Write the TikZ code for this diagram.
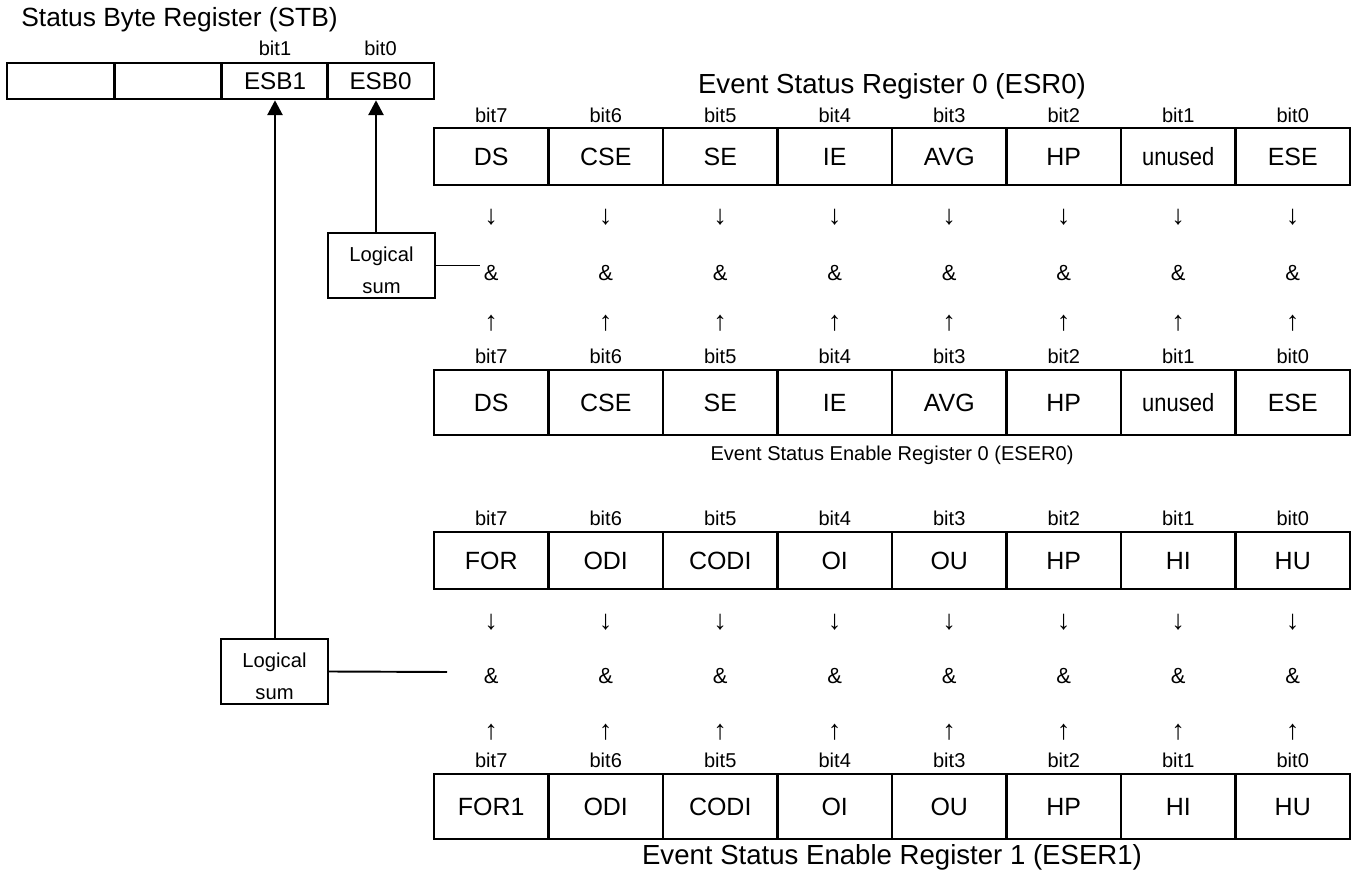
\documentclass[tikz,border=0pt]{standalone}
\usepackage{fontspec}
\setmainfont{Liberation Sans}
\usetikzlibrary{arrows.meta}
\def\px{0.02cm}
% one register: name, top, height, contents
\def\regrow#1#2#3#4{\foreach \lbl [count=\k from 0] in {#4} {\node[cell, minimum height=#3*\px] (#1\k) at ({491.25+114.5*\k}, {#2+#3/2}) {\lbl};}}
% bit numbers above a register
\def\bitrow#1#2{\foreach \k in {0,...,7} {\pgfmathtruncatemacro\b{7-\k}\node[bitlbl] (#1\k) at ({491.25+114.5*\k}, #2) {bit\b};}}
% and gates with their in/out arrows
\def\gaterow#1#2#3#4{\foreach \k in {0,...,7} {
  \node[gatearr] (#1dn\k) at ({491.25+114.5*\k}, #2) {↓};
  \node[gatetxt] (#1and\k) at ({491.25+114.5*\k}, #3) {\&};
  \node[gatearr] (#1up\k) at ({491.25+114.5*\k}, #4) {↑};}}

\begin{document}
\begin{tikzpicture}[x=0.02cm, y=-0.02cm,
  cell/.style={draw, line width=1.4pt, minimum width=114.5*\px, inner sep=0pt, text height=10.2pt, text depth=0pt, font=\fontsize{14.2}{16}\selectfont},
  stbcell/.style={draw, line width=1.4pt, minimum width=106.5*\px, minimum height=36*\px, inner sep=0pt, text height=9.9pt, text depth=0pt, font=\fontsize{13.8}{16}\selectfont},
  bitlbl/.style={inner sep=1pt, font=\fontsize{11.4}{13}\selectfont},
  gatetxt/.style={inner sep=2pt, font=\fontsize{12.5}{14}\selectfont},
  gatearr/.style={inner sep=2pt, font=\fontsize{15.5}{17}\selectfont},
  sumbox/.style={draw, line width=1.4pt, minimum width=107*\px, minimum height=65*\px, inner sep=0pt, align=center, font=\fontsize{11.5}{18.2}\selectfont},
  stbtitle/.style={inner sep=0pt, font=\fontsize{15}{17}\selectfont},
  regtitle/.style={inner sep=0pt, font=\fontsize{15.7}{18}\selectfont},
  wire/.style={line width=1.1pt},
  feed/.style={line width=1.6pt, -{Triangle[length=0.3cm, width=0.3cm]}}]
  %%%%% START %%%%%
  \useasboundingbox (0,0) rectangle (1357,874);

  % status byte register
  \node[stbtitle, anchor=west] (stbname) at (21,20) {Status Byte Register (STB)};
  \node[stbcell] (stb3) at (60.5,81) {};
  \node[stbcell] (stb2) at (168,81) {};
  \node[stbcell] (esb1) at (275,81) {ESB1};
  \node[stbcell] (esb0) at (380.5,81) {ESB0};
  \node[bitlbl] (stbbit1) at (275,48) {bit1};
  \node[bitlbl] (stbbit0) at (380.5,48) {bit0};

  % event status register 0 and its enable register
  \node[regtitle] (esrname) at (892,86) {Event Status Register 0 (ESR0)};
  \bitrow{esrbit}{115}
  \regrow{esr}{128}{57}{DS,CSE,SE,IE,AVG,HP,\scalebox{0.88}[1]{unused},ESE}
  \gaterow{ga}{217}{273}{323}
  \bitrow{eserAbit}{356}
  \regrow{eserA}{370}{65}{DS,CSE,SE,IE,AVG,HP,\scalebox{0.88}[1]{unused},ESE}
  \node[bitlbl] (eserAname) at (892,455) {Event Status Enable Register 0 (ESER0)};

  % event status register 1 and its enable register
  \bitrow{forbit}{518}
  \regrow{for}{532}{57}{FOR,ODI,CODI,OI,OU,HP,HI,HU}
  \gaterow{gb}{622}{676}{732}
  \bitrow{eserBbit}{760}
  \regrow{eserB}{774}{65}{FOR1,ODI,CODI,OI,OU,HP,HI,HU}
  \node[regtitle] (eserBname) at (892,857) {Event Status Enable Register 1 (ESER1)};

  % logical sums
  \node[sumbox] (sumA) at (381.5,265.5) {\rule{0pt}{13.5pt}Logical\\sum};
  \node[sumbox] (sumB) at (274.5,671.5) {\rule{0pt}{13.5pt}Logical\\sum};
  \coordinate (tieB) at (447,672);

  \draw[wire] (sumA.east) -- (sumA.east -| gaand0.west);
  \draw[wire] (sumB.east) -- (tieB);
  \draw[feed] (sumA.north -| 376,0) -- (esb0.south -| 376,0);
  \draw[feed] (sumB.north -| esb1) -- (esb1.south);
  %%%%% END %%%%%
\end{tikzpicture}
\end{document}
